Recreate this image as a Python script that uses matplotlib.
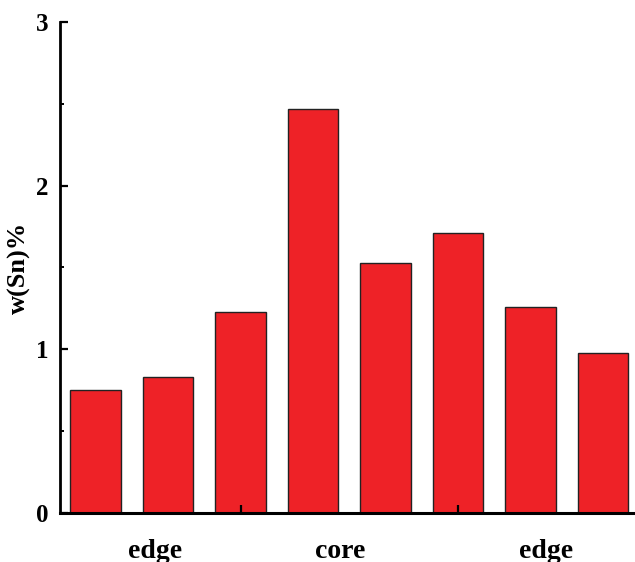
import numpy as np
import matplotlib.pyplot as plt
from matplotlib.ticker import MultipleLocator, FixedLocator

# 数据
positions = [1, 2, 3, 4, 5, 6, 7, 8]
sn_values = [0.75, 0.83, 1.23, 2.47, 1.53, 1.71, 1.26, 0.98]
region_labels = ['edge', 'core', 'edge']
region_pos = [1.82, 4.37, 7.21]

plt.rcParams['font.family'] = ['Liberation Serif', 'DejaVu Serif']
plt.rcParams['font.weight'] = 'bold'

fig = plt.figure(figsize=(6.35, 5.62), dpi=100)
ax = fig.add_axes([0.0945, 0.0872, 0.9055, 0.8737])

ax.bar(positions, sn_values, width=0.7, color='#EE2227', edgecolor='#222222', linewidth=1.0)

ax.set_xlim(0.51, 8.44)
ax.set_ylim(0, 3)

for s in ['top', 'right']:
    ax.spines[s].set_visible(False)
ax.spines['left'].set_linewidth(2.0)
ax.spines['bottom'].set_linewidth(2.2)

ax.yaxis.set_major_locator(MultipleLocator(1))
ax.yaxis.set_minor_locator(MultipleLocator(0.5))
ax.xaxis.set_major_locator(FixedLocator([3, 6]))
ax.set_xticklabels([])
ax.tick_params(axis='both', which='major', direction='in', length=6, width=1.6, labelsize=18)
ax.tick_params(axis='y', which='minor', direction='in', length=3, width=1.4)
ax.tick_params(axis='y', pad=8)

for lab, p in zip(region_labels, region_pos):
    ax.text(p, -0.235, lab, ha='center', va='center', fontsize=20, fontweight='bold',
            transform=ax.transData, clip_on=False)

ax.set_ylabel('w(Sn)%', fontsize=19, fontweight='bold', labelpad=4)

plt.savefig('out.png', dpi=100)
